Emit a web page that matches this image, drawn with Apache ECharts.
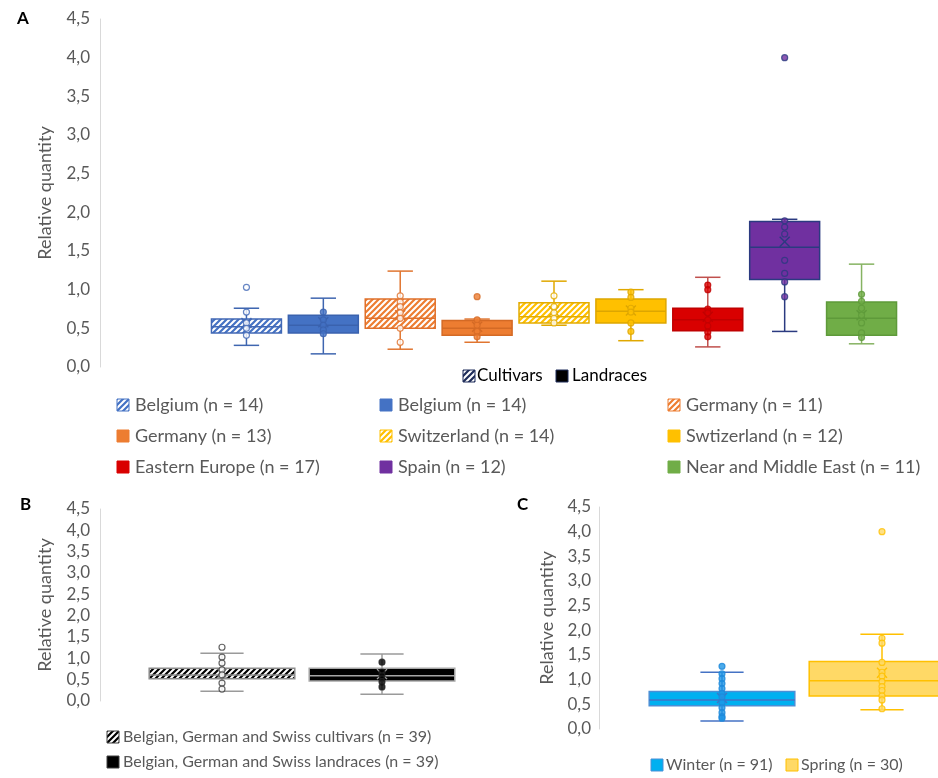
<!DOCTYPE html>
<html>
<head>
<meta charset="utf-8">
<script src="https://cdn.jsdelivr.net/npm/echarts@6/dist/echarts.min.js"></script>
<style>
  html, body { margin: 0; padding: 0; background: #fff; }
  #chart { width: 938px; height: 778px; }
</style>
</head>
<body>
<div id="chart"></div>
<script>
// ---------- Panel A: cultivars and landraces by origin ----------
const groupsA = ['Belgium (n = 14)', 'Belgium (n = 14)', 'Germany (n = 11)', 'Germany (n = 13)',
  'Switzerland (n = 14)', 'Swtizerland (n = 12)', 'Eastern Europe (n = 17)', 'Spain (n = 12)',
  'Near and Middle East (n = 11)'];
const hatchedA = [true, false, true, false, true, false, false, false, false];
const minA    = [0.28, 0.17, 0.23, 0.32, 0.54, 0.34, 0.26, 0.46, 0.30];
const q1A     = [0.44, 0.44, 0.50, 0.41, 0.57, 0.57, 0.47, 1.13, 0.41];
const medianA = [0.52, 0.54, 0.63, 0.50, 0.65, 0.72, 0.61, 1.55, 0.63];
const q3A     = [0.62, 0.67, 0.88, 0.60, 0.83, 0.88, 0.76, 1.88, 0.84];
const maxA    = [0.76, 0.89, 1.24, 0.62, 1.11, 1.00, 1.16, 1.91, 1.33];
const meanA   = [0.57, 0.58, 0.67, 0.52, 0.72, 0.73, 0.65, 1.62, 0.67];
const pointsA = [
  [0.71, 0.57, 0.50, 0.41],
  [0.71, 0.61, 0.54, 0.48, 0.43],
  [0.92, 0.84, 0.78, 0.70, 0.63, 0.50, 0.32],
  [0.61, 0.54, 0.46, 0.39],
  [0.92, 0.78, 0.70, 0.63, 0.57],
  [0.97, 0.90, 0.76, 0.71, 0.57, 0.46],
  [1.06, 1.00, 0.75, 0.70, 0.61, 0.53, 0.45, 0.39],
  [1.89, 1.81, 1.72, 1.38, 1.21, 1.10, 0.91],
  [0.94, 0.85, 0.76, 0.67, 0.57, 0.44, 0.38]
];
const outliersA = [[1.03], [], [], [0.91], [], [], [], [4.00], []];

// ---------- Panel B: pooled cultivars vs landraces ----------
const groupsB = ['Belgian, German and Swiss cultivars (n = 39)', 'Belgian, German and Swiss landraces (n = 39)'];
const minB    = [0.23, 0.16];
const q1B     = [0.52, 0.47];
const medianB = [0.61, 0.59];
const q3B     = [0.77, 0.77];
const maxB    = [1.12, 1.10];
const meanB   = [0.65, 0.63];
const pointsB = [[1.03, 0.89, 0.73, 0.61, 0.42, 0.28], [0.91, 0.68, 0.59, 0.45, 0.33]];
const outliersB = [[1.26], []];

// ---------- Panel C: winter vs spring ----------
const groupsC = ['Winter (n = 91)', 'Spring (n = 30)'];
const minC    = [0.16, 0.39];
const q1C     = [0.47, 0.67];
const medianC = [0.59, 0.98];
const q3C     = [0.76, 1.37];
const maxC    = [1.15, 1.92];
const meanC   = [0.63, 1.14];
const pointsC = [
  [1.12, 1.02, 0.92, 0.82, 0.72, 0.65, 0.53, 0.43, 0.33, 0.25, 0.22],
  [1.84, 1.74, 1.35, 1.15, 1.07, 0.96, 0.86, 0.78, 0.67, 0.59, 0.41]
];
const outliersC = [[1.27], [4.00]];

const yMin = 0, yMax = 4.5, yStep = 0.5;

// ---------- styling ----------
const FONT = 'Lato, "Open Sans", sans-serif';
const GREY = '#595959';

function hatch(color, bg) {
  const c = document.createElement('canvas');
  const s = 6;
  c.width = s; c.height = s;
  const g = c.getContext('2d');
  g.fillStyle = bg; g.fillRect(0, 0, s, s);
  g.strokeStyle = color; g.lineWidth = 2.2; g.lineCap = 'square';
  g.beginPath();
  g.moveTo(-1, s + 1); g.lineTo(s + 1, -1);
  g.moveTo(-1, 1); g.lineTo(1, -1);
  g.moveTo(s - 1, s + 1); g.lineTo(s + 1, s - 1);
  g.stroke();
  return { image: c, repeat: 'repeat' };
}

const baseA   = ['#4472C4', '#4472C4', '#ED7D31', '#ED7D31', '#FFC000', '#FFC000', '#D90000', '#7030A0', '#70AD47'];
const strokeA = ['#4168B5', '#3A62AE', '#E0702A', '#D46A25', '#E3AC00', '#DDA600', '#C00000', '#2B3A80', '#5E9A3A'];
const whiskA  = ['#3F66B0', '#3F66B0', '#E07530', '#E07530', '#E0A800', '#E0A800', '#C0504D', '#2B3A80', '#86B362'];
const styleA = baseA.map((c, i) => ({
  fill: hatchedA[i] ? hatch(c, '#ffffff') : c,
  stroke: strokeA[i],
  whisker: whiskA[i],
  median: strokeA[i],
  mean: strokeA[i],
  ptFill: hatchedA[i] ? '#ffffff' : baseA[i],
  ptStroke: i === 7 ? '#2B3A80' : strokeA[i]
}));
const styleB = [
  { fill: hatch('#000000', '#ffffff'), stroke: '#8C8C8C', whisker: '#9A9A9A', median: '#8C8C8C', mean: '#8C8C8C', ptFill: '#ffffff', ptStroke: '#404040' },
  { fill: '#000000', stroke: '#A6A6A6', whisker: '#9A9A9A', median: '#A6A6A6', mean: '#A6A6A6', ptFill: '#000000', ptStroke: '#202020' }
];
const styleC = [
  { fill: '#00B0F0', stroke: '#4A8FD6', whisker: '#4472C4', median: '#4472C4', mean: '#4472C4', ptFill: '#1E96E6', ptStroke: '#1E88DA' },
  { fill: '#FFD966', stroke: '#FFC000', whisker: '#FFC000', median: '#FFC000', mean: '#FFC000', ptFill: '#FFD966', ptStroke: '#FFC000' }
];

// ---------- series builders ----------
function boxSeries(axisIdx, mins, q1s, meds, q3s, maxs, means, styles, capRatio) {
  const data = mins.map((m, i) => [i, m, q1s[i], meds[i], q3s[i], maxs[i], means[i]]);
  return {
    type: 'custom',
    xAxisIndex: axisIdx, yAxisIndex: axisIdx,
    clip: false,
    z: 2,
    encode: { x: 0, y: [1, 2, 3, 4, 5] },
    data: data,
    renderItem: function (params, api) {
      const st = styles[params.dataIndex];
      const x = api.value(0);
      const band = api.size([1, 0])[0];
      const bw = band * 0.91;
      const cw = band * capRatio;
      const p = (k) => api.coord([x, api.value(k)]);
      const pMin = p(1), pQ1 = p(2), pMed = p(3), pQ3 = p(4), pMax = p(5), pMean = p(6);
      const cx = pMin[0];
      const line = (x1, y1, x2, y2, color, w) => ({
        type: 'line', shape: { x1, y1, x2, y2 },
        style: { stroke: color, lineWidth: w || 1.5, fill: null }
      });
      const m = 5;
      return {
        type: 'group',
        children: [
          line(cx, pQ1[1], cx, pMin[1], st.whisker),
          line(cx, pQ3[1], cx, pMax[1], st.whisker),
          line(cx - cw / 2, pMin[1], cx + cw / 2, pMin[1], st.whisker),
          line(cx - cw / 2, pMax[1], cx + cw / 2, pMax[1], st.whisker),
          {
            type: 'rect',
            shape: { x: cx - bw / 2, y: pQ3[1], width: bw, height: pQ1[1] - pQ3[1] },
            style: { fill: st.fill, stroke: st.stroke, lineWidth: 1.5 }
          },
          line(cx - bw / 2, pMed[1], cx + bw / 2, pMed[1], st.median),
          line(cx - m, pMean[1] - m, cx + m, pMean[1] + m, st.mean, 1.4),
          line(cx - m, pMean[1] + m, cx + m, pMean[1] - m, st.mean, 1.4)
        ]
      };
    }
  };
}

function pointSeries(axisIdx, pts, outs, styles, size) {
  const data = [];
  pts.forEach((arr, i) => {
    arr.concat(outs[i]).forEach((v) => {
      data.push({
        value: [i, v],
        itemStyle: { color: styles[i].ptFill, borderColor: styles[i].ptStroke, borderWidth: 1.2 }
      });
    });
  });
  return {
    type: 'scatter', xAxisIndex: axisIdx, yAxisIndex: axisIdx,
    symbol: 'circle', symbolSize: size, z: 3, silent: true, clip: false,
    data: data
  };
}

function yAxis(gridIdx, offset, nameGap, labelMargin) {
  return {
    type: 'value', gridIndex: gridIdx, min: yMin, max: yMax, interval: yStep,
    offset: offset,
    axisLine: { show: true, onZero: false, lineStyle: { color: '#D9D9D9', width: 1 } },
    axisTick: { show: false },
    splitLine: { show: false },
    axisLabel: {
      color: GREY, fontSize: 17, fontFamily: FONT, margin: labelMargin,
      formatter: (v) => v.toFixed(1).replace('.', ',')
    },
    name: 'Relative quantity', nameLocation: 'middle', nameRotate: 90, nameGap: nameGap,
    nameTextStyle: { color: GREY, fontSize: 18, fontFamily: FONT }
  };
}

function xAxis(gridIdx, cats) {
  return {
    type: 'category', gridIndex: gridIdx, data: cats,
    axisLine: { show: false }, axisTick: { show: false },
    axisLabel: { show: false }, splitLine: { show: false }
  };
}

// Panel C's second group runs past the right edge of the page, so its
// horizontal axis is a plain numeric one (one unit per group) that stops at the edge.
function xAxisOpen(gridIdx, lo, hi) {
  return {
    type: 'value', gridIndex: gridIdx, min: lo, max: hi,
    axisLine: { show: false }, axisTick: { show: false },
    axisLabel: { show: false }, splitLine: { show: false }
  };
}

// ---------- legends ----------
const graphics = [];
function icon(x, y, fill, stroke) {
  graphics.push({ type: 'rect', x: x, y: y - 6, shape: { width: 12, height: 12 },
    style: { fill: fill, stroke: stroke, lineWidth: 1 } });
}
function label(x, y, text, size, color, weight) {
  graphics.push({ type: 'text', x: x, y: y,
    style: { text: text, fontSize: size, fontFamily: FONT, fill: color, fontWeight: weight || 'normal',
      verticalAlign: 'middle', align: 'left' } });
}

label(17, 19, 'A', 17, '#000', 'bold');
label(20, 505, 'B', 17, '#000', 'bold');
label(517, 505, 'C', 17, '#000', 'bold');

icon(463, 376, hatch('#1F2D5A', '#ffffff'), '#1F2D5A');
label(477, 376, 'Cultivars', 17, '#000');
icon(556, 376, '#000000', '#1F2D5A');
label(572, 376, 'Landraces', 17, '#000');

const legendColX = [117, 380, 668];
const legendRowY = [405, 436, 467];
groupsA.forEach((name, i) => {
  const x = legendColX[i % 3], y = legendRowY[Math.floor(i / 3)];
  icon(x, y, styleA[i].fill, baseA[i]);
  label(x + 18, y, name, 18, GREY);
});

const legendBY = [737, 762];
groupsB.forEach((name, i) => {
  icon(107, legendBY[i], styleB[i].fill, '#404040');
  label(123, legendBY[i], name, 16, GREY);
});

const legendCX = [651, 786];
groupsC.forEach((name, i) => {
  icon(legendCX[i], 765, styleC[i].fill, styleC[i].stroke);
  label(legendCX[i] + 15, 765, name, 16, GREY);
});

// ---------- chart ----------
const chart = echarts.init(document.getElementById('chart'), null, { renderer: 'canvas' });
chart.setOption({
  backgroundColor: '#ffffff',
  animation: false,
  grid: [
    { left: 208, top: 19, width: 692, height: 348 },
    { left: 142, top: 509, width: 320, height: 192 },
    { left: 642, top: 507, width: 296, height: 222 }
  ],
  xAxis: [xAxis(0, groupsA), xAxis(1, groupsB), xAxisOpen(2, -0.5, -0.5 + 296 / 160)],
  yAxis: [yAxis(0, 108, 46, 10), yAxis(1, 42, 46, 10), yAxis(2, 43, 43, 8)],
  series: [
    boxSeries(0, minA, q1A, medianA, q3A, maxA, meanA, styleA, 0.33),
    pointSeries(0, pointsA, outliersA, styleA, 6),
    boxSeries(1, minB, q1B, medianB, q3B, maxB, meanB, styleB, 0.27),
    pointSeries(1, pointsB, outliersB, styleB, 6),
    boxSeries(2, minC, q1C, medianC, q3C, maxC, meanC, styleC, 0.27),
    pointSeries(2, pointsC, outliersC, styleC, 6)
  ],
  graphic: graphics
});
</script>
</body>
</html>
